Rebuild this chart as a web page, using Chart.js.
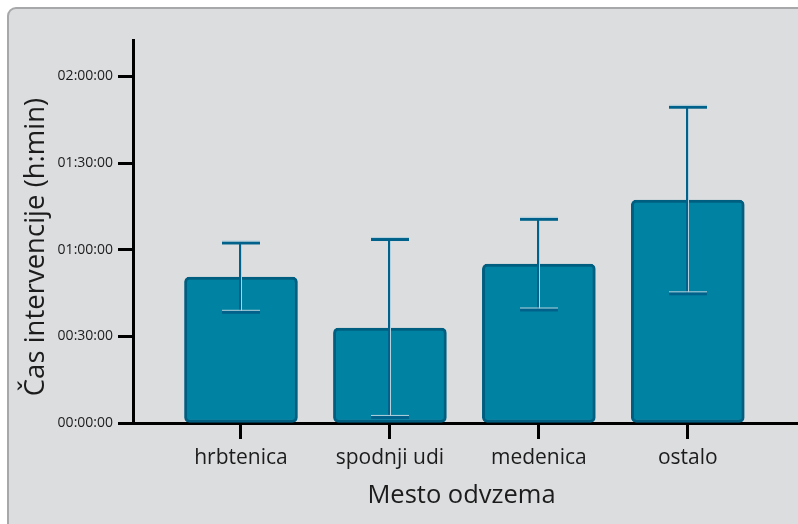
<!DOCTYPE html>
<html>
<head>
<meta charset="utf-8">
<title>Čas intervencije po mestu odvzema</title>
<script src="https://cdn.jsdelivr.net/npm/chart.js@4"></script>
<style>
  html, body { margin: 0; padding: 0; background: #ffffff; overflow: hidden; }
  #wrap { position: relative; width: 798px; height: 524px; overflow: hidden; }
  #panel {
    position: absolute; left: 7px; top: 7px; width: 840px; height: 560px;
    border: 2px solid #a7a8aa; border-radius: 9px; background: #dcdddf;
    box-sizing: border-box;
  }
  #chart { position: absolute; left: 0; top: 0; }
</style>
</head>
<body>
<div id="wrap">
  <div id="panel"></div>
  <canvas id="chart" width="798" height="524"></canvas>
</div>
<script>
// Mean intervention time per sampling site, in minutes, with standard deviation
const categories = ['hrbtenica', 'spodnji udi', 'medenica', 'ostalo'];
const meanMinutes = [50.5, 32.9, 55.0, 77.2];
const sdMinutes = [12.0, 30.8, 15.7, 32.3];

// Y axis ticks (minutes) and their h:m:s labels
const yTickValues = [0, 30, 60, 90, 120];
const yTickLabels = ['00:00:00', '00:30:00', '01:00:00', '01:30:00', '02:00:00'];

const xTitle = 'Mesto odvzema';
const yTitle = 'Čas intervencije (h:min)';

const FONT = '"Open Sans", Lato, sans-serif';
const TEXT = '#1c1c1c';
const BAR_FILL = '#0082a3';
const BAR_EDGE = '#005f80';
const ERR_DARK = '#00628a';
const ERR_LIGHT = '#b4d0dc';

// Error bars (mean ± sd) drawn over the bars
const errorBars = {
  id: 'errorBars',
  afterDatasetsDraw(chart) {
    const { ctx, scales: { x, y } } = chart;
    const half = 19;
    ctx.save();
    meanMinutes.forEach((m, i) => {
      const px = Math.round(x.getPixelForValue(i));
      const top = y.getPixelForValue(m + sdMinutes[i]);
      const bot = y.getPixelForValue(Math.max(0, m - sdMinutes[i]));
      // stem
      ctx.fillStyle = ERR_DARK;
      ctx.fillRect(px - 2, top, 2, bot - top);
      ctx.fillStyle = ERR_LIGHT;
      ctx.fillRect(px, top + 2, 1, bot - top - 3);
      // caps
      ctx.fillStyle = ERR_DARK;
      ctx.fillRect(px - half, top - 1, half * 2, 3);
      ctx.fillRect(px - half, bot - 1, half * 2, 3);
      ctx.fillStyle = ERR_LIGHT;
      ctx.fillRect(px - half, top - 2, half * 2, 1);
      ctx.fillRect(px - half, bot - 2, half * 2, 1);
    });
    ctx.restore();
  }
};

// Axis titles
const axisTitles = {
  id: 'axisTitles',
  afterDraw(chart) {
    const { ctx, chartArea } = chart;
    ctx.save();
    ctx.fillStyle = TEXT;
    ctx.textAlign = 'center';
    ctx.textBaseline = 'middle';
    ctx.font = '25.5px ' + FONT;
    ctx.fillText(xTitle, (chartArea.left + chartArea.right) / 2 - 4, 496);
    ctx.font = '27.5px ' + FONT;
    ctx.translate(36, 247);
    ctx.rotate(-Math.PI / 2);
    ctx.fillText(yTitle, 0, 0);
    ctx.restore();
  }
};

new Chart(document.getElementById('chart'), {
  type: 'bar',
  data: {
    datasets: [{
      data: categories.map((c, i) => ({ x: i, y: meanMinutes[i] })),
      backgroundColor: BAR_FILL,
      borderColor: BAR_EDGE,
      borderWidth: 3,
      borderRadius: 5,
      borderSkipped: false,
      barThickness: 113
    }]
  },
  options: {
    responsive: false,
    animation: false,
    layout: { padding: { top: 40, left: 0, right: 0, bottom: 0 } },
    plugins: { legend: { display: false }, tooltip: { enabled: false } },
    scales: {
      x: {
        type: 'linear',
        min: -0.725,
        max: 3.74,
        offset: false,
        afterBuildTicks(s) { s.ticks = categories.map((c, i) => ({ value: i })); },
        afterFit(s) { s.height = 101; },
        ticks: {
          callback: (v) => categories[v],
          font: { family: FONT, size: 21 },
          color: TEXT,
          padding: 6,
          maxRotation: 0,
          autoSkip: false
        },
        grid: { drawOnChartArea: false, offset: false, tickLength: 16, tickWidth: 3, tickColor: '#000' },
        border: { display: true, color: '#000', width: 3 }
      },
      y: {
        min: 0,
        max: 132.6,
        afterBuildTicks(s) { s.ticks = yTickValues.map(v => ({ value: v })); },
        afterFit(s) { s.width = 133; },
        ticks: {
          callback: (v) => yTickLabels[yTickValues.indexOf(v)],
          font: { family: FONT, size: 14 },
          color: TEXT,
          padding: 5
        },
        grid: { drawOnChartArea: false, tickLength: 15, tickWidth: 3, tickColor: '#000' },
        border: { display: true, color: '#000', width: 3 }
      }
    }
  },
  plugins: [errorBars, axisTitles]
});
</script>
</body>
</html>
